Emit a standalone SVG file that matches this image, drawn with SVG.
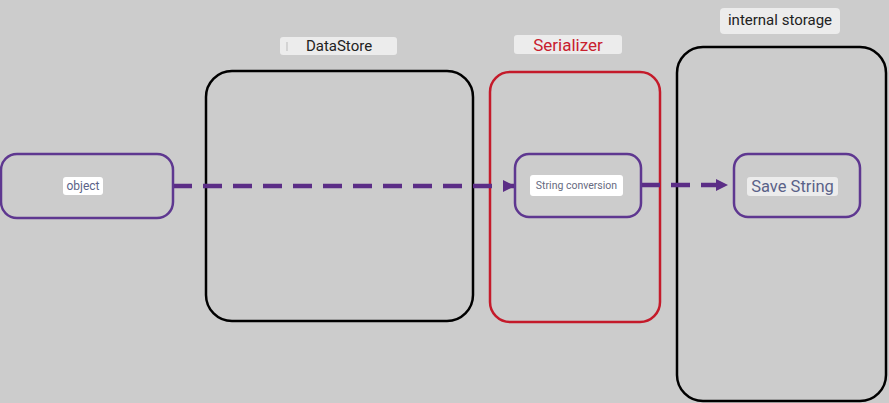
<svg xmlns="http://www.w3.org/2000/svg" width="889" height="403" viewBox="0 0 889 403">
<defs>
<style>
.bg{fill:#cccccc}
.cluster{fill:none;stroke:#000;stroke-width:2.5}
.cluster.red{stroke:#c41a2a}
.node{fill:none;stroke:#5e3790;stroke-width:2.5}
.lbl{fill:#ededed;opacity:0.95}
.nlbl{fill:#ffffff}
text{font-family:Roboto,"Liberation Sans",sans-serif;text-anchor:middle;dominant-baseline:central}
.ctext{font-size:15px;fill:#222}
.ntext{fill:#5a6288}
.edge{fill:none;stroke:#5b2d86;stroke-width:4.5;stroke-dasharray:19 11}
</style>
<marker id="arrow" viewBox="0 0 12 12" refX="11" refY="6" markerWidth="12" markerHeight="12" markerUnits="userSpaceOnUse" orient="auto">
<path d="M0,0 L12,6 L0,12 z" fill="#5b2d86"/>
</marker>
</defs>
<rect class="bg" x="0" y="0" width="889" height="403"/>
<g id="cluster-datastore">
<rect class="cluster" x="206" y="71" width="267" height="250" rx="26"/>
<rect class="lbl" x="280" y="37" width="117" height="18" rx="3"/>
<line x1="287" y1="42" x2="287" y2="51" stroke="#bbbbbb" stroke-width="1"/>
<text class="ctext" x="339" y="46">DataStore</text>
</g>
<g id="cluster-serializer">
<rect class="cluster red" x="490" y="72" width="170" height="250" rx="20"/>
<rect class="lbl" x="514" y="35" width="108" height="19" rx="3"/>
<text class="ctext" x="568" y="45" style="fill:#c8202e;font-size:17px">Serializer</text>
</g>
<g id="cluster-storage">
<rect class="cluster" x="677" y="47" width="209" height="354" rx="26"/>
<rect class="lbl" x="720" y="8" width="120" height="26" rx="4"/>
<text class="ctext" x="780" y="20">internal storage</text>
</g>
<g id="connectors">
<path class="edge" d="M173,186 L514,186" marker-end="url(#arrow)"/>
<path class="edge" d="M641,185 L727,185" marker-end="url(#arrow)"/>
</g>
<g id="node-object">
<rect class="node" x="1" y="154" width="172" height="64" rx="16"/>
<rect class="nlbl" x="63" y="177" width="40" height="18" rx="3"/>
<text class="ntext" x="83" y="186" style="font-size:12px">object</text>
</g>
<g id="node-string-conversion">
<rect class="node" x="515" y="154" width="126" height="63" rx="14"/>
<rect class="nlbl" x="530" y="175" width="93" height="21" rx="3"/>
<text class="ntext" x="576.5" y="185.5" style="font-size:10.5px;fill:#666a80">String conversion</text>
</g>
<g id="node-save-string">
<rect class="node" x="734" y="154" width="126" height="63" rx="14"/>
<rect class="lbl" x="747" y="177" width="91" height="19" rx="3"/>
<text class="ntext" x="792.5" y="186.5" style="font-size:16.5px">Save String</text>
</g>
</svg>
